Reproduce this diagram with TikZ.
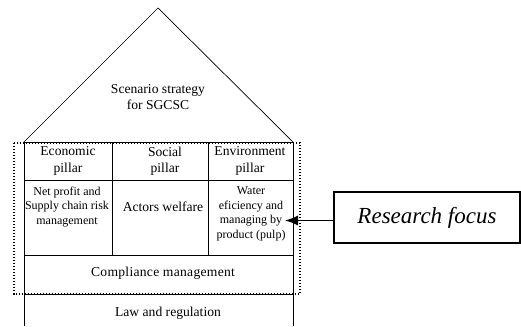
\documentclass[tikz,border=0pt]{standalone}
\usepackage{fontspec}
\setmainfont{Liberation Serif}
\usetikzlibrary{arrows.meta}
\tikzset{
  wall/.style={line width=0.7pt},
  lbl/.style={font=\fontsize{13.6}{16.5}\selectfont, align=center, inner sep=0pt},
  small/.style={font=\fontsize{12}{14.5}\selectfont, align=center, inner sep=0pt},
  dotbox/.style={line width=1.4pt, dash pattern=on 1.4pt off 1.6pt},
  focus/.style={draw, line width=1.2pt, minimum width=186pt, minimum height=51pt, inner sep=0pt, font=\fontsize{23}{26}\selectfont\itshape},
}
\begin{document}
\begin{tikzpicture}[x=1pt,y=-1pt]
\useasboundingbox (0,0) rectangle (521,326);
% roof
\draw[wall] (24,142) -- (158,8) -- (293,142);
% body
\draw[wall] (24,142) -- (293,142);
\draw[wall] (24,142) -- (24,326);
\draw[wall] (293,142) -- (293,326);
\draw[wall] (24,180) -- (293,180);
\draw[wall] (24,255) -- (293,255);
\draw[wall] (24,294) -- (293,294);
\draw[wall] (112,142) -- (112,255);
\draw[wall] (208,142) -- (208,255);
% dotted frame
\draw[dotbox] (14,143) rectangle (300,294);
% texts
\node[lbl] (roof) at (158,97) {Scenario strategy\\for SGCSC};
\node[lbl] (eco) at (68,161) {Economic\\pillar};
\node[lbl] (soc) at (165,161) {Social\\pillar};
\node[lbl] (env) at (250,161) {Environment\\pillar};
\node[small] (net) at (67,207) {Net profit and\\Supply chain risk\\management};
\node[lbl] (act) at (163,207) {Actors welfare};
\node[small] (wat) at (251,214) {Water\\eficiency and\\managing by\\product (pulp)};
\node[lbl, font=\fontsize{13.6}{16.5}\selectfont\addfontfeature{LetterSpace=2}] (comp) at (163,273) {Compliance management};
\node[lbl] (law) at (168,313) {Law and regulation};
% research focus
\node[focus] (rf) at (427,217.5) {Research focus};
\coordinate (tip) at (285,220.5);
\draw[line width=1.1pt, -{Latex[length=13pt,width=10pt]}] (rf.west |- tip) -- (tip);
\end{tikzpicture}
\end{document}
